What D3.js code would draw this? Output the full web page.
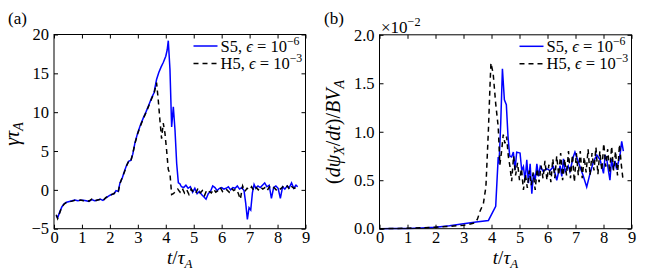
<!DOCTYPE html>
<html>
<head>
<meta charset="utf-8">
<script src="https://cdn.jsdelivr.net/npm/d3@7"></script>
<style>
  body { margin: 0; background: #fff; }
  svg text { font-family: "Liberation Serif", "DejaVu Serif", serif; }
  .tick line { stroke: #000; }
</style>
</head>
<body>
<svg id="chart" width="645" height="273"></svg>
<script>
// ---- data: panel (a), growth rate gamma*tau_A ----
const tTicks = [0, 1, 2, 3, 4, 5, 6, 7, 8, 9];
const gammaTicks = [-5, 0, 5, 10, 15, 20];
const rateTicks = [0.0, 0.5, 1.0, 1.5, 2.0];

const aT_S5 = [0.08,0.13,0.2,0.28,0.36,0.45,0.55,0.65,0.75,0.85,0.95,1.05,1.15,1.25,1.35,1.45,1.55,1.65,1.75,1.85,1.95,2.05,2.15,2.22,2.3,2.36,2.44,2.52,2.6,2.68,2.75,2.82,2.9,3.0,3.1,3.2,3.3,3.4,3.5,3.58,3.67,3.75,3.83,3.91,4.0,4.05,4.09,4.15,4.21,4.27,4.33,4.39,4.45,4.5,
  4.56,4.64,4.72,4.8,4.88,4.96,5.04,5.12,5.2,5.28,5.36,5.44,5.52,5.6,5.68,5.76,5.84,5.92,6.0,6.08,6.16,6.24,6.32,6.4,6.48,6.56,6.64,6.72,6.8,6.86,6.92,6.98,7.04,7.1,7.16,7.22,7.3,7.38,7.46,7.54,7.62,7.7,7.78,7.86,7.94,8.02,8.1,8.18,8.26,8.34,8.42,8.5,8.58,8.66,8.72];
const aS5 = [-3.3,-3.6,-2.9,-2.2,-1.8,-1.6,-1.5,-1.4,-1.3,-1.4,-1.35,-1.35,-1.4,-1.5,-1.25,-1.4,-1.35,-1.2,-1.35,-1.05,-0.8,-0.6,-0.5,-0.1,-0.2,0.9,1.5,2.4,3.2,3.7,3.8,4.6,6.1,7.4,8.4,9.3,10.1,11.0,11.9,12.5,14.2,15.1,15.8,16.4,17.2,18.0,19.2,15.5,8.1,10.7,7.7,3.4,0.9,0.8,
  0.4,0.3,0.6,0.2,0.4,-0.3,0.2,-0.5,-0.2,-0.6,-0.9,-1.2,-0.5,-0.2,0.5,0.3,-0.1,0.2,0.3,0.1,0.2,0.4,0.0,0.3,0.2,0.5,0.1,0.3,-0.1,-1.7,-3.8,-2.3,-2.6,-0.4,0.7,0.2,0.5,0.3,0.6,0.9,0.4,0.6,-1.1,0.3,0.5,0.2,-1.1,0.4,0.1,0.5,0.3,0.9,0.2,0.6,0.4];

const aT_H5 = [0.08,0.13,0.2,0.28,0.36,0.45,0.55,0.65,0.75,0.85,0.95,1.05,1.15,1.25,1.35,1.45,1.55,1.65,1.75,1.85,1.95,2.05,2.15,2.22,2.3,2.36,2.44,2.52,2.6,2.68,2.75,2.82,2.9,3.0,3.1,3.2,3.3,3.4,3.5,3.58,3.67,3.73,3.79,3.85,3.91,3.97,4.03,4.09,4.15,4.21,4.27,
  4.35,4.43,4.51,4.59,4.67,4.75,4.83,4.91,4.99,5.07,5.15,5.23,5.31,5.39,5.47,5.55,5.63,5.71,5.79,5.87,5.95,6.03,6.11,6.19,6.27,6.35,6.43,6.51,6.59,6.67,6.75,6.83,6.91,6.99,7.07,7.15,7.23,7.31,7.39,7.47,7.55,7.63,7.71,7.79,7.87,7.95,8.03,8.11,8.19,8.27,8.35,8.43,8.51,8.59,8.67];
const aH5 = [-3.2,-3.7,-3.0,-2.2,-1.85,-1.6,-1.5,-1.45,-1.35,-1.4,-1.3,-1.4,-1.35,-1.45,-1.2,-1.45,-1.3,-1.25,-1.4,-1.0,-0.8,-0.65,-0.45,-0.15,-0.25,0.8,1.6,2.3,3.1,3.8,3.7,4.7,6.0,7.3,8.3,9.2,10.0,10.9,11.8,12.4,13.8,11.6,9.0,6.6,8.6,7.3,5.1,2.6,2.1,-0.6,-0.5,
  -0.2,0.1,-0.3,0.2,-0.4,0.0,-0.6,0.1,-0.3,-0.5,0.2,-0.4,-0.1,-0.7,0.0,-0.2,-0.4,0.1,-0.3,-0.1,0.3,-0.2,0.1,0.0,-0.3,0.2,-0.1,0.1,-0.4,-1.2,0.5,-0.2,0.2,0.0,0.4,-0.1,0.3,0.0,0.4,0.1,0.3,-0.1,0.4,0.1,0.3,0.0,0.3,0.1,0.4,0.2,0.5,0.0,0.4,0.2,0.3];

// ---- data: panel (b), reconnection rate, units of 1e-2 ----
const bT_S5 = [0,0.5,1,1.5,2,2.5,3,3.45,3.89,4.15,4.24,4.27,4.33,4.39,4.46,4.53,4.59,4.65,4.72,4.78,4.84,4.9,5.02,5.08,5.14,5.2,5.26,5.32,5.38,5.44,5.5,5.56,5.62,5.68,5.74,5.85,5.97,6.09,6.21,6.33,6.45,6.51,6.57,6.63,6.74,6.8,6.92,6.98,7.04,7.16,7.28,7.4,7.52,7.64,7.76,7.88,8.0,8.06,8.12,8.18,8.23,8.29,8.35,8.41,8.47,8.59,8.65,8.71];
const bS5 = [0,0.001,0.003,0.008,0.015,0.03,0.05,0.07,0.085,0.23,0.74,0.67,1.09,1.65,1.33,1.28,0.95,0.75,0.74,0.79,0.61,0.79,0.78,0.6,0.64,0.5,0.71,0.47,0.67,0.36,0.57,0.5,0.67,0.54,0.64,0.59,0.62,0.6,0.64,0.5,0.65,0.54,0.72,0.59,0.65,0.59,0.74,0.79,0.74,0.64,0.54,0.43,0.57,0.69,0.76,0.71,0.57,0.76,0.71,0.59,0.5,0.72,0.61,0.7,0.61,0.76,0.9,0.8];

const bT_H5 = [0,0.5,1.0,1.5,2.0,2.5,3.0,3.2,3.41,3.5,3.59,3.71,3.8,3.89,3.95,3.98,4.06,4.15,4.24,4.3,4.36,4.42,4.48,4.54,4.6,4.66,
  4.72,4.79,4.86,4.93,5.0,5.07,5.14,5.21,5.28,5.35,5.42,5.49,5.56,5.63,5.7,5.77,5.84,5.91,5.98,6.05,6.12,6.19,6.26,6.33,6.4,6.47,6.54,6.61,6.68,6.75,6.82,6.89,6.96,7.03,7.1,7.17,7.24,7.31,7.38,7.45,7.52,7.59,7.66,7.73,7.8,7.87,7.94,8.01,8.08,8.15,8.22,8.29,8.36,8.43,8.5,8.57,8.64,8.7];
const bH5 = [0,0.002,0.005,0.01,0.015,0.025,0.035,0.045,0.06,0.1,0.18,0.26,0.43,1.02,1.5,1.71,1.6,1.29,1.05,0.66,0.8,0.97,0.88,0.95,0.75,0.64,
  0.49,0.75,0.55,0.68,0.5,0.62,0.4,0.56,0.42,0.6,0.45,0.58,0.4,0.62,0.48,0.65,0.52,0.7,0.5,0.66,0.48,0.72,0.52,0.75,0.55,0.78,0.5,0.72,0.55,0.8,0.52,0.76,0.48,0.78,0.55,0.8,0.52,0.74,0.58,0.82,0.55,0.78,0.6,0.84,0.56,0.8,0.6,0.88,0.64,0.82,0.58,0.85,0.6,0.8,0.55,0.87,0.65,0.5];

const svg = d3.select("#chart");

function zip(ts, vs) { return ts.map((t, i) => [t, vs[i]]); }

// base text followed by a raised exponent
function addPower(sel, base, exp, size) {
  sel.append("tspan").text(base);
  sel.append("tspan").attr("dy", -7).attr("font-size", size * 0.72).text(exp);
}

function legendEntry(g, x, y, color, dash, exp) {
  g.append("line").attr("x1", x).attr("x2", x + 24).attr("y1", y).attr("y2", y)
    .attr("stroke", color).attr("stroke-width", 1.5).attr("stroke-dasharray", dash);
  const t = g.append("text").attr("x", x + 27).attr("y", y + 5.5).attr("font-size", 16.5);
  t.append("tspan").text(color === "blue" ? "S5, " : "H5, ");
  t.append("tspan").attr("font-style", "italic").text("ϵ");
  addPower(t, " = 10", exp, 16.5);
}

function panel(p) {
  const x = d3.scaleLinear().domain([0, 9]).range([p.left, p.right]);
  const y = d3.scaleLinear().domain(p.yDomain).range([p.bottom, p.top]);
  const g = svg.append("g");

  const line = d3.line().x(d => x(d[0])).y(d => y(d[1]));
  g.append("path").datum(zip(p.tS5, p.vS5)).attr("d", line)
    .attr("fill", "none").attr("stroke", "blue").attr("stroke-width", 1.5);
  g.append("path").datum(zip(p.tH5, p.vH5)).attr("d", line)
    .attr("fill", "none").attr("stroke", "black").attr("stroke-width", 1.5)
    .attr("stroke-dasharray", "5,4");

  // axes, ticks pointing inward on all four sides
  g.append("g").attr("transform", `translate(0,${p.bottom})`)
    .call(d3.axisBottom(x).tickValues(tTicks).tickSize(-4).tickPadding(3).tickFormat(d3.format("d")));
  g.append("g").attr("transform", `translate(0,${p.top})`)
    .call(d3.axisTop(x).tickValues(tTicks).tickSize(-4).tickFormat(""));
  g.append("g").attr("transform", `translate(${p.left},0)`)
    .call(d3.axisLeft(y).tickValues(p.yTicks).tickSize(-4).tickPadding(5).tickFormat(p.yFormat));
  g.append("g").attr("transform", `translate(${p.right},0)`)
    .call(d3.axisRight(y).tickValues(p.yTicks).tickSize(-4).tickFormat(""));
  g.selectAll(".domain").remove();
  g.selectAll(".tick text").attr("font-family", "Liberation Serif").attr("font-size", 16.5).attr("fill", "#000");

  g.append("rect").attr("x", p.left).attr("y", p.top)
    .attr("width", p.right - p.left).attr("height", p.bottom - p.top)
    .attr("fill", "none").attr("stroke", "black").attr("stroke-width", 1);

  // legend
  legendEntry(g, p.right - 112, p.top + 11.5, "blue", null, "−6");
  legendEntry(g, p.right - 112, p.top + 29, "black", "5,4", "−3");

  // x label t/tau_A
  const xl = g.append("text").attr("x", (p.left + p.right) / 2).attr("y", 264)
    .attr("text-anchor", "middle").attr("font-size", 19);
  xl.append("tspan").attr("font-style", "italic").text("t");
  xl.append("tspan").text("/");
  xl.append("tspan").attr("font-style", "italic").text("τ");
  xl.append("tspan").attr("font-style", "italic").attr("font-size", 13).attr("dy", 4).text("A");

  // panel tag
  g.append("text").attr("x", p.tagX).attr("y", 24).attr("font-size", 17).text(p.tag);
  return g;
}

const ga = panel({
  left: 54, right: 305.5, top: 34.5, bottom: 228.7,
  yDomain: [-5, 20], yTicks: gammaTicks, yFormat: d3.format("d"),
  tS5: aT_S5, vS5: aS5, tH5: aT_H5, vH5: aH5, tag: "(a)", tagX: 8
});
const yla = ga.append("text").attr("transform", "translate(19,134) rotate(-90)")
  .attr("text-anchor", "middle").attr("font-size", 20);
yla.append("tspan").attr("font-style", "italic").text("γτ");
yla.append("tspan").attr("font-style", "italic").attr("font-size", 14).attr("dy", 4).text("A");

const gb = panel({
  left: 379.5, right: 631.5, top: 34.8, bottom: 228.7,
  yDomain: [0, 2], yTicks: rateTicks, yFormat: d3.format(".1f"),
  tS5: bT_S5, vS5: bS5, tH5: bT_H5, vH5: bH5, tag: "(b)", tagX: 324
});
const ylb = gb.append("text").attr("transform", "translate(340,132) rotate(-90)")
  .attr("text-anchor", "middle").attr("font-size", 20);
ylb.append("tspan").text("(");
ylb.append("tspan").attr("font-style", "italic").text("dψ");
ylb.append("tspan").attr("font-style", "italic").attr("font-size", 14).attr("dy", 4).text("X");
ylb.append("tspan").attr("dy", -4).text("/");
ylb.append("tspan").attr("font-style", "italic").text("dt");
ylb.append("tspan").text(")/");
ylb.append("tspan").attr("font-style", "italic").text("BV");
ylb.append("tspan").attr("font-style", "italic").attr("font-size", 14).attr("dy", 4).text("A");

// multiplier above the axis
const mult = gb.append("text").attr("x", 381).attr("y", 33).attr("font-size", 17);
addPower(mult, "×10", "−2", 17);
</script>
</body>
</html>
